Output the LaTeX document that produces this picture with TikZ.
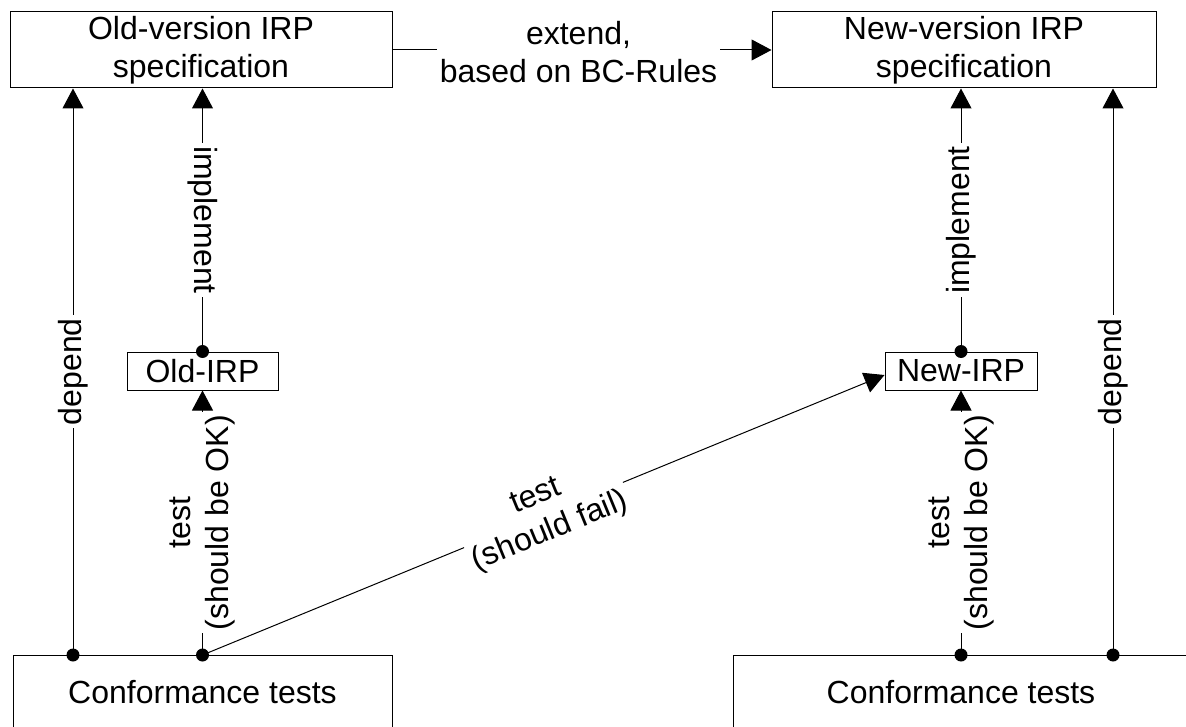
\documentclass[tikz,border=0pt]{standalone}
\usepackage{fontspec}
\setmainfont{Liberation Sans}
\usetikzlibrary{arrows.meta}
\begin{document}
\begin{tikzpicture}[x=1pt,y=-1pt,
  every node/.style={font=\fontsize{32}{38}\selectfont},
  box/.style={draw,line width=1pt,inner sep=0pt,align=center},
  lab/.style={fill=white,inner sep=3pt,align=center},
  conn/.style={line width=1pt},
  arr/.style={conn,-{Triangle[width=21pt,length=20pt]}},
  dot/.style={circle,fill=black,inner sep=0pt,minimum size=13pt}]
\useasboundingbox (0,0) rectangle (1186,727);
% top specification boxes
\node[box,minimum width=382pt,minimum height=76pt] (old) at (201,50) {Old-version IRP\\specification};
\node[box,minimum width=384pt,minimum height=76pt] (new) at (964,50) {New-version IRP\\specification};
% implementations
\node[box,minimum width=151pt,minimum height=38pt] (oldirp) at (202.5,371) {Old-IRP};
\node[box,minimum width=152pt,minimum height=38pt] (newirp) at (961,371) {New-IRP};
% conformance test boxes (cut by the picture edge)
\begin{scope}
\clip (0,0) rectangle (1186,727);
\node[box,minimum width=379pt,minimum height=75pt] (confL) at (202.5,692.5) {Conformance tests};
\node[box,minimum width=456pt,minimum height=75pt] (confR) at (961,692.5) {Conformance tests};
\end{scope}
% attachment points
\coordinate (dL1) at (73,655);
\coordinate (dL2) at (202.5,655);
\coordinate (dR1) at (961,655);
\coordinate (dR2) at (1113,655);
% extend
\node[align=center,inner sep=3pt] (ext) at (578.5,52) {extend,\\based on BC-Rules};
\draw[conn] (old.east) -- (old.east -| ext.west);
\draw[arr] (ext.east |- new.west) -- (new.west);
% left side
\draw[arr] (dL1) -- node[lab,rotate=90]{depend} (dL1 |- old.south);
\draw[arr] (oldirp.north) -- node[lab,rotate=-90]{implement} (oldirp.north |- old.south);
\draw[arr] (dL2) -- node[lab,rotate=90]{test\\(should be OK)} (oldirp.south);
\draw[arr] (dL2) -- node[lab,sloped]{test\\(should fail)} ([yshift=-4pt]newirp.west);
% right side
\draw[arr] (newirp.north) -- node[lab,rotate=90]{implement} (newirp.north |- new.south);
\draw[arr] (dR1) -- node[lab,rotate=90]{test\\(should be OK)} (newirp.south);
\draw[arr] (dR2) -- node[lab,rotate=90]{depend} (dR2 |- new.south);
% dots
\node[dot] at (dL1) {};
\node[dot] at (dL2) {};
\node[dot] at (dR1) {};
\node[dot] at (dR2) {};
\node[dot] at (oldirp.north) {};
\node[dot] at (newirp.north) {};
\end{tikzpicture}
\end{document}
